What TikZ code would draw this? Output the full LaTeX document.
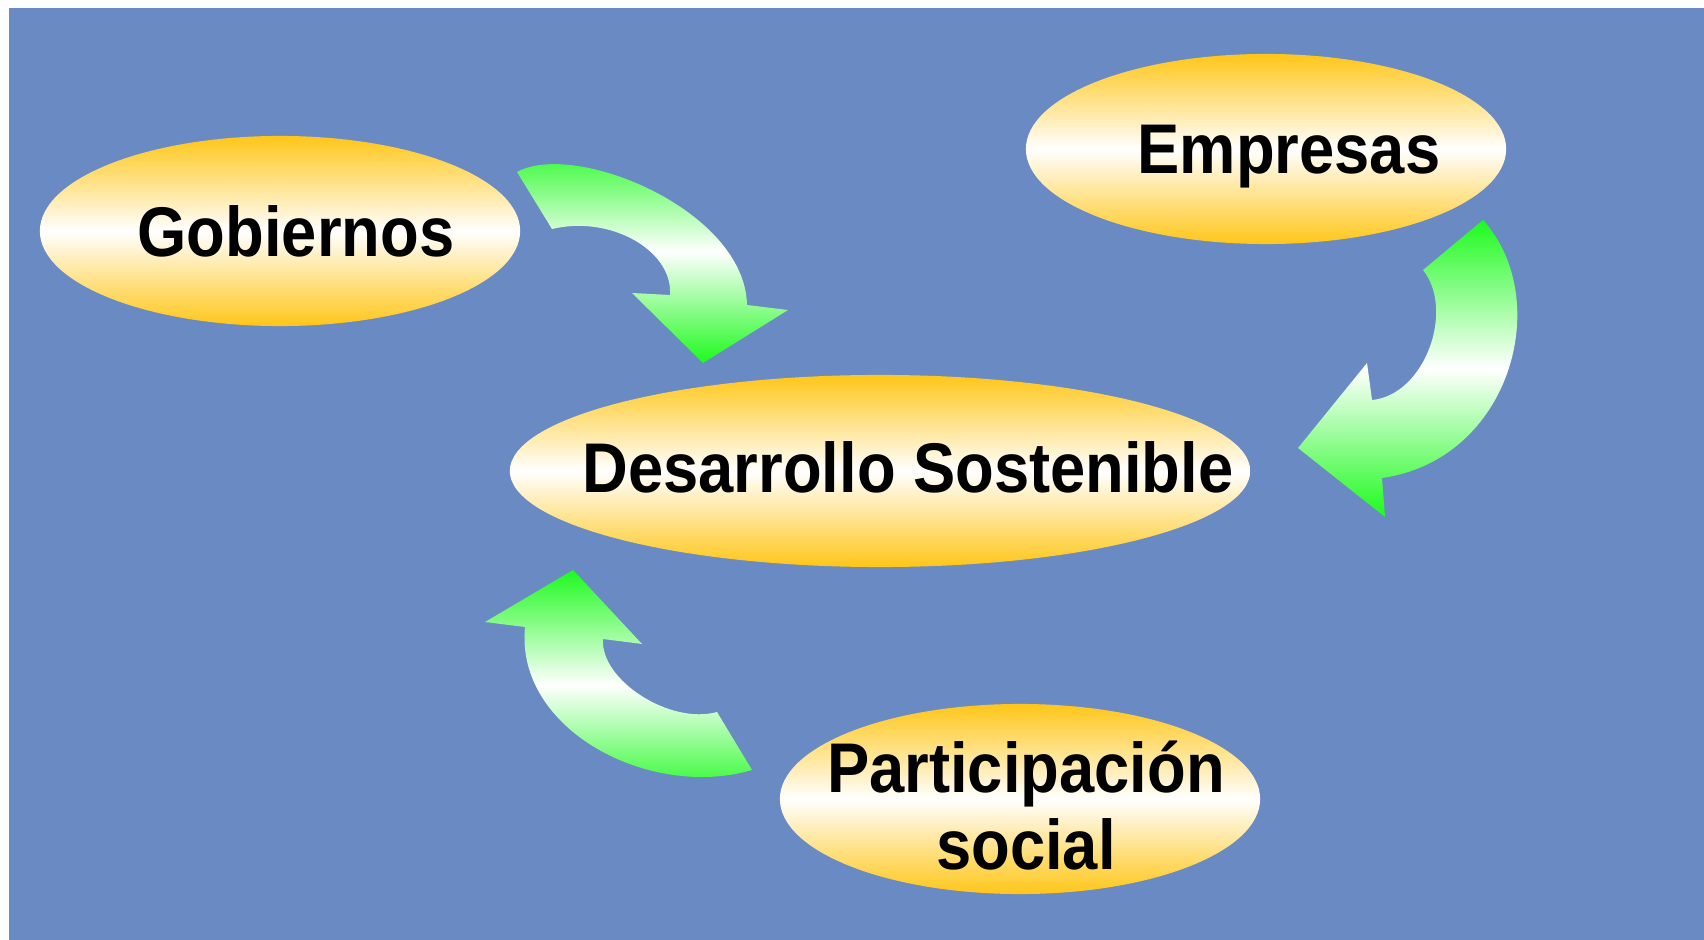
\documentclass[tikz,border=0pt]{standalone}
\usepackage{fontspec}
\newfontfamily\labelfont{Liberation Sans}[FakeStretch=0.9]
\usetikzlibrary{shapes.geometric}
\definecolor{fondo}{RGB}{106,138,196}
\definecolor{oro}{RGB}{255,198,24}
\definecolor{verde}{RGB}{30,250,30}
\tikzset{
  elipse/.style={ellipse, inner sep=0pt, top color=oro, bottom color=oro, middle color=white},
  texto/.style={inner sep=0pt, text depth=0pt, align=center, font=\labelfont\bfseries\fontsize{20}{22}\selectfont},
  flecha/.style={top color=verde, bottom color=verde, middle color=white}
}

\begin{document}
\begin{tikzpicture}[x=0.01cm, y=-0.01cm]
		\useasboundingbox (0,0) rectangle (1704,940);
		% fondo azul
		\fill[fondo] (9,8) rectangle (1704,940);

		% elipses con los actores
		\node[elipse, minimum width=4.8cm, minimum height=1.9cm] (gobiernos) at (280,231) {};
		\node[elipse, minimum width=4.8cm, minimum height=1.9cm] (empresas) at (1266,149) {};
		\node[elipse, minimum width=7.4cm, minimum height=1.92cm] (desarrollo) at (880,471) {};
		\node[elipse, minimum width=4.8cm, minimum height=1.9cm] (participacion) at (1020,799) {};

		% textos
		\node[texto, xshift=0.16cm] (gobiernos-txt) at (gobiernos) {Gobiernos};
		\node[texto, xshift=0.23cm] (empresas-txt) at (empresas) {Empresas};
		\node[texto, xshift=0.28cm, yshift=0.04cm] (desarrollo-txt) at (desarrollo) {Desarrollo Sostenible};
		\node[texto, xshift=0.06cm, yshift=-0.06cm] (participacion-txt) at (participacion) {Participación\\social};

		% flechas curvas hacia el centro
		\shade[flecha] (517,172) .. controls (575,140) and (745,210) .. (747,305) -- (788,310) -- (703,363) -- (632,293) -- (670,295) .. controls (673,250) and (610,215) .. (552,229) -- cycle;
		\shade[flecha] (1483,220) .. controls (1555,300) and (1510,460) .. (1382,478) -- (1385,517) -- (1298,448) -- (1367,363) -- (1372,400) .. controls (1425,395) and (1455,310) .. (1423,270) -- cycle;
		\shade[flecha] (573,570) -- (642,644) -- (603,639) .. controls (600,680) and (670,725) .. (717,712) -- (752,770) .. controls (650,800) and (515,730) .. (525,627) -- (485,622) -- cycle;
	\end{tikzpicture}
\end{document}
